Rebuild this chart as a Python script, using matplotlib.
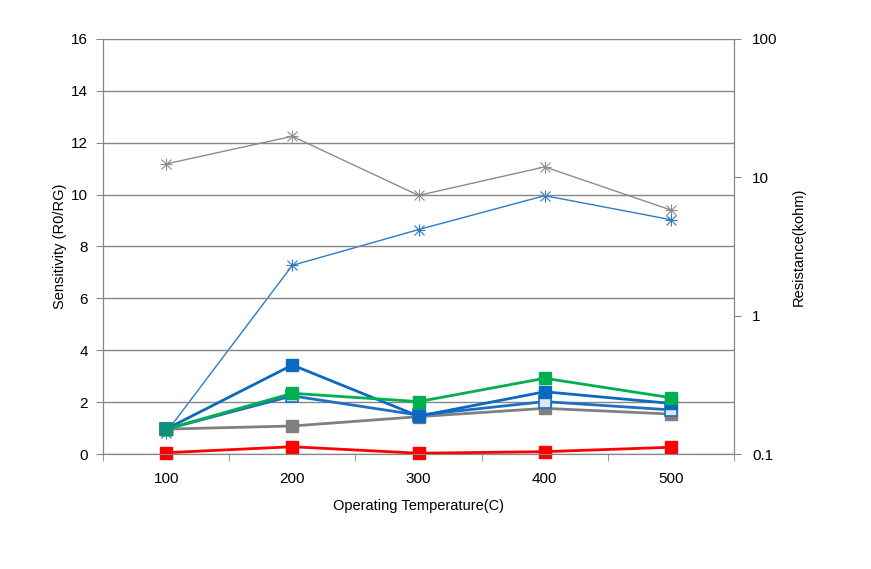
import numpy as np
import matplotlib
matplotlib.use('Agg')
import matplotlib.pyplot as plt

plt.rcParams['font.family'] = ['Liberation Sans', 'DejaVu Sans']

temps = ['100', '200', '300', '400', '500']

# sensitivity series (left axis)
sens_red = [0.05, 0.28, 0.03, 0.09, 0.26]
sens_gray = [0.96, 1.08, 1.44, 1.76, 1.54]
sens_blue_open = [0.96, 2.24, 1.50, 2.02, 1.70]
sens_blue = [0.96, 3.43, 1.46, 2.40, 1.95]
sens_green = [0.96, 2.34, 2.02, 2.92, 2.17]

# resistance series (right axis, kohm)
res_gray = [12.5, 19.8, 7.4, 11.9, 5.8]
res_blue = [0.143, 2.31, 4.19, 7.37, 4.94]

gridc = '#868686'
x = np.arange(1, len(temps) + 1)

fig = plt.figure(figsize=(8.71, 5.69), dpi=100)
ax = fig.add_axes([0.1183, 0.2021, 0.7245, 0.7294])
ax2 = ax.twinx()

# right axis first so left-axis lines sit on top
ax2.set_zorder(0)
ax.set_zorder(1)
ax.patch.set_visible(False)

ax2.plot(x, res_gray, color='#8c8c8c', lw=1.0, marker='x', ms=7, mew=0.8)
ax2.plot(x, res_gray, color='#8c8c8c', lw=0, marker='+', ms=9, mew=0.8)
ax2.plot(x, res_blue, color='#2e7bc4', lw=1.0, marker='x', ms=7, mew=0.8)
ax2.plot(x, res_blue, color='#2e7bc4', lw=0, marker='+', ms=9, mew=0.8)
ax2.set_yscale('log')
ax2.set_ylim(0.1, 100)
ax2.set_yticks([0.1, 1, 10, 100])
ax2.set_yticklabels(['0.1', '1', '10', '100'])
ax2.minorticks_off()
ax2.set_ylabel('Resistance(kohm)', fontsize=10.5, labelpad=10)

ax.plot(x, sens_red, color='#ff0000', lw=2, marker='s', ms=8, clip_on=False)
ax.plot(x, sens_gray, color='#808080', lw=2, marker='s', ms=8)
ax.plot(x, sens_blue_open, color='#1f6fc0', lw=2, marker='s', ms=8,
        mfc='#dce8f5', mec='#1f6fc0', mew=1.2)
ax.plot(x, sens_blue, color='#0a6ac0', lw=2, marker='s', ms=8)
ax.plot(x, sens_green, color='#00b050', lw=2, marker='s', ms=8)
ax.plot(x[:1], sens_green[:1], color='#11907a', lw=0, marker='s', ms=8)

ax.set_ylim(0, 16)
ax.set_yticks(range(0, 17, 2))
ax.set_xlim(0.5, 5.5)
ax.set_xticks(x)
ax.set_xticklabels(temps)
ax.set_xticks(np.arange(0.5, 5.6, 1), minor=True)
ax.tick_params(axis='x', which='major', length=0, pad=13)
ax.tick_params(axis='x', which='minor', length=5, color=gridc, direction='out')
ax.tick_params(axis='y', length=5, color=gridc, direction='out', pad=6)
ax2.tick_params(axis='y', length=5, color=gridc, direction='out', pad=8)
ax.tick_params(labelsize=11)
ax2.tick_params(labelsize=11)
ax.yaxis.grid(True, color=gridc, lw=1)
ax.set_axisbelow(True)

for a in (ax, ax2):
    a.spines['top'].set_visible(False)
    for s in ('left', 'right', 'bottom'):
        a.spines[s].set_color(gridc)

ax.set_ylabel('Sensitivity (R0/RG)', fontsize=10.5, labelpad=3)
ax.set_xlabel('Operating Temperature(C)', fontsize=10.5, labelpad=9)

fig.savefig('out.png', dpi=100)
